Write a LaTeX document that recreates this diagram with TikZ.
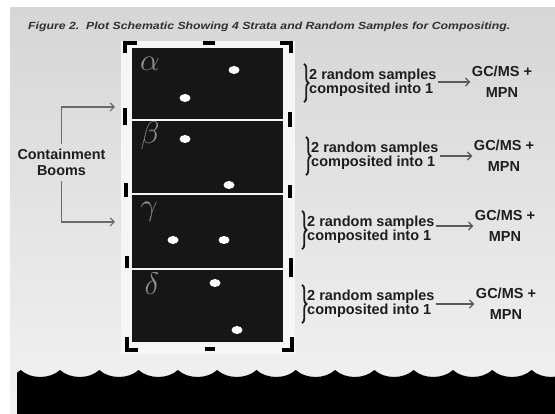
\documentclass[tikz,border=0pt]{standalone}
\usepackage{fontspec}
\setmainfont{Liberation Sans}
\usepackage{graphicx}
\usetikzlibrary{arrows.meta,decorations.pathreplacing}
\definecolor{bgtop}{HTML}{D6D6D6}
\definecolor{bgbot}{HTML}{F2F2F2}
\definecolor{panelc}{HTML}{F6F6F6}
\definecolor{strat}{HTML}{161616}
\definecolor{greekc}{HTML}{8E8E8E}
\definecolor{ink}{HTML}{1E1E1E}
\definecolor{titlec}{HTML}{303030}
\definecolor{arrc}{HTML}{5A5A5A}
\newcommand{\grk}[1]{\scalebox{1.5}{$#1$}}
\begin{document}
\begin{tikzpicture}[x=1pt,y=-1pt,
  stratum/.style={fill=strat, minimum width=151pt, minimum height=71pt, inner sep=0pt},
  greek/.style={text=greekc, font=\fontsize{20}{20}\selectfont, inner sep=0pt},
  lbl/.style={font=\fontsize{14.5}{14.5}\selectfont\bfseries, text=ink, align=left, inner sep=1pt},
  res/.style={font=\fontsize{14.5}{21}\selectfont\bfseries, text=ink, align=center, inner sep=1.5pt},
  arr/.style={draw=arrc, line width=1.2pt, -{Straight Barb[length=4pt,width=8pt]}},
  bracer/.style={decorate, decoration={brace, amplitude=4.5pt}, line width=1.8pt, draw=ink},
  boom/.style={line width=4pt, draw=black},
  dot/.style={fill=white}
]
\useasboundingbox (0,0) rectangle (555,414);
\fill[white] (0,0) rectangle (555,414);
\shade[top color=bgtop,bottom color=bgbot] (10,8) rectangle (555,414);

% title
\node[anchor=base west, inner sep=0pt, text=titlec] (title) at (28,29.5)
  {\resizebox{482pt}{7.5pt}{\bfseries\itshape Figure 2.\ \ Plot Schematic Showing 4 Strata and Random Samples for Compositing.}};

% light boom panel
\fill[panelc] (121,41) rectangle (295,354);

% strata
\node[stratum] (s1) at (207.5,83.5) {};
\node[stratum, minimum height=72pt] (s2) at (207.5,157) {};
\node[stratum, minimum height=73pt] (s3) at (207.5,231.5) {};
\node[stratum, minimum height=72pt] (s4) at (207.5,306) {};

\node[greek] (ga) at (150,64) {\grk{\alpha}};
\node[greek] (gb) at (150,136) {\grk{\beta}};
\node[greek] (gc) at (149,212) {\grk{\gamma}};
\node[greek] (gd) at (152,284) {\grk{\delta}};

\foreach \p in {(234,70),(185,98),(185,139),(229,185),(173,240),(224,240),(215,283),(237,330)}
  \fill[dot] \p ellipse (5.5 and 4);

% booms (brackets and dashes)
\draw[boom] (125,53) -- (125,43) -- (137,43);
\draw[boom] (280,43) -- (291,43) -- (291,53);
\draw[boom] (127,337) -- (127,350) -- (138,350);
\draw[boom] (282,350) -- (292,350) -- (292,337);
\draw[boom] (203,43) -- (215,43);
\draw[boom] (205,349) -- (215,349);
\draw[boom] (125,108) -- (125,125);
\draw[boom] (126,183) -- (126,197);
\draw[boom] (127,256) -- (127,268);
\draw[boom] (290,112) -- (290,127);
\draw[boom] (290,185) -- (290,198);
\draw[boom] (291,258) -- (291,277);

% sample texts
\node[lbl, anchor=west] (t1) at (308,83) {2 random samples\\composited into 1};
\node[lbl, anchor=west] (t2) at (310,156) {2 random samples\\composited into 1};
\node[lbl, anchor=west] (t3) at (306,230) {2 random samples\\composited into 1};
\node[lbl, anchor=west] (t4) at (306,304) {2 random samples\\composited into 1};

\node[res] (r1) at (502,82) {GC/MS +\\MPN};
\node[res] (r2) at (504,156) {GC/MS +\\MPN};
\node[res] (r3) at (505,226) {GC/MS +\\MPN};
\node[res] (r4) at (506,304) {GC/MS +\\MPN};

\foreach \i in {1,2,3,4}{
  \draw[bracer] ([xshift=-4pt,yshift=4pt]t\i.north west) -- ([xshift=-4pt,yshift=-4pt]t\i.south west);
  \draw[arr] (t\i.east |- r\i.west) -- (r\i.west);
}

% containment booms label
\node[font=\fontsize{14.4}{16.7}\selectfont\bfseries, text=ink, align=center, inner sep=2pt, outer sep=3pt] (cb) at (61.5,162.5) {Containment\\Booms};
\coordinate (b1) at (115,107);
\coordinate (b2) at (115,222);
\draw[arr, draw=arrc!90] (cb.north) |- (b1);
\draw[arr, draw=arrc!90] (cb.south) |- (b2);

% water
\begin{scope}
\clip (17,350) rectangle (555,414);
\fill[black] (-18.6,414) -- (-18.6,370)
  \foreach \k in {0,...,14}{ .. controls +(10,9.3) and +(-10,9.3) .. ++(39.3,0)}
  -- (571,414) -- cycle;
\end{scope}
\end{tikzpicture}
\end{document}
